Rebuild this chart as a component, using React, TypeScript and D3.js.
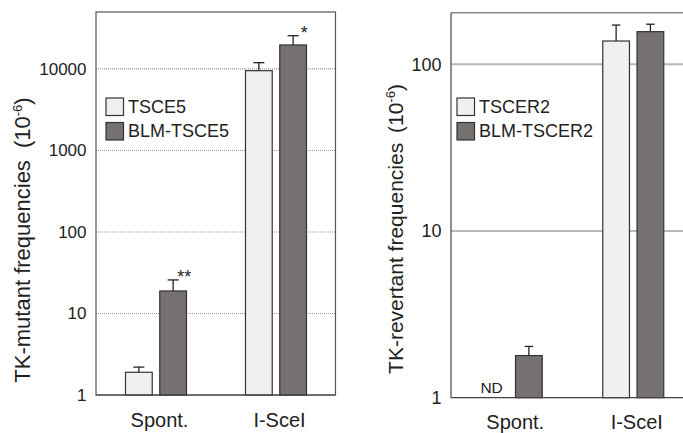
import React from "react";
import * as d3 from "d3";

// categories and series
const categories = ["Spont.", "I-SceI"];

const mutantSeries = ["TSCE5", "BLM-TSCE5"];
const mutantTSCE5 = [1.9, 9530];
const mutantTSCE5Err = [2.2, 11950];
const mutantBLM = [18.9, 19700];
const mutantBLMErr = [25.8, 25600];
const mutantBLMStars = ["**", "*"];
const mutantTicks = [1, 10, 100, 1000, 10000];

const revertantSeries = ["TSCER2", "BLM-TSCER2"];
const revertantTSCER2: (number | null)[] = [null, 138];
const revertantTSCER2Err: (number | null)[] = [null, 172];
const revertantBLM = [1.79, 157];
const revertantBLMErr = [2.03, 174];
const revertantTicks = [1, 10, 100];

const FONT = "'Liberation Sans', Arial, Helvetica, sans-serif";
const LIGHT = "#f0f0f0";
const DARK = "#767170";
const EDGE = "#333";

type Panel = {
  left: number;
  right: number;
  bandRight: number;
  top: number;
  bottom: number;
  yMax: number;
  ticks: number[];
  tickSize: number;
  series: string[];
  values: (number | null)[][];
  errs: (number | null)[][];
  stars?: string[];
  label: string;
  labelSize: number;
  labelGap: number;
  labelX: number;
  labelY: number;
  xLabelY: number;
  legendX: number;
  gridStyle: "dotted" | "solid";
  capW: number;
  nd?: boolean;
};

function BarPanel(p: Panel) {
  const y = d3.scaleLog().domain([1, p.yMax]).range([p.bottom, p.top]);
  const x0 = d3.scaleBand().domain(categories).range([p.left, p.bandRight]);
  const x1 = d3
    .scaleBand()
    .domain(p.series)
    .range([-30.5, 30.5])
    .paddingInner(0.22);
  const fills = [LIGHT, DARK];

  return (
    <g fontFamily={FONT} fill="#222">
      {/* gridlines */}
      {p.ticks.map((t) =>
        t === 1 ? null : (
          <line
            key={"g" + t}
            x1={p.left}
            x2={p.right}
            y1={y(t)}
            y2={y(t)}
            stroke={p.gridStyle === "dotted" ? "#9a9a9a" : "#b8b8b8"}
            strokeWidth={p.gridStyle === "dotted" ? 1.2 : 2}
            strokeDasharray={p.gridStyle === "dotted" ? "1,1" : undefined}
          />
        )
      )}
      {/* frame */}
      {p.gridStyle === "dotted" ? (
        <rect
          x={p.left}
          y={p.top}
          width={p.right - p.left}
          height={p.bottom - p.top}
          fill="none"
          stroke="#555"
          strokeWidth={1.2}
        />
      ) : (
        <g>
          <line x1={p.left} x2={p.right} y1={p.top} y2={p.top} stroke="#888" strokeWidth={1.5} />
          <line x1={p.left} x2={p.left} y1={p.top} y2={p.bottom} stroke="#444" strokeWidth={1.2} />
        </g>
      )}
      {/* bars */}
      {p.series.map((s, si) =>
        categories.map((c, ci) => {
          const v = p.values[si][ci];
          if (v == null) return null;
          const bx = (x0(c) as number) + x0.bandwidth() / 2 + (x1(s) as number);
          const bw = x1.bandwidth();
          const e = p.errs[si][ci] as number;
          const cx = bx + bw / 2;
          return (
            <g key={s + c}>
              <line x1={cx} x2={cx} y1={y(v)} y2={y(e)} stroke="#222" strokeWidth={1.3} />
              <line
                x1={cx - p.capW / 2}
                x2={cx + p.capW / 2}
                y1={y(e)}
                y2={y(e)}
                stroke="#222"
                strokeWidth={1.3}
              />
              <rect
                x={bx}
                y={y(v)}
                width={bw}
                height={p.bottom - y(v)}
                fill={fills[si]}
                stroke={EDGE}
                strokeWidth={1.2}
              />
              {si === 1 && p.stars && p.stars[ci] ? (
                <text x={cx + 11} y={y(e) + 3} fontSize={18} textAnchor="middle">
                  {p.stars[ci]}
                </text>
              ) : null}
            </g>
          );
        })
      )}
      {p.nd ? (
        <text
          x={(x0(categories[0]) as number) + x0.bandwidth() / 2 + (x1(p.series[0]) as number) + x1.bandwidth() / 2 - 3}
          y={p.bottom - 4.5}
          fontSize={15.5}
          textAnchor="middle"
        >
          ND
        </text>
      ) : null}
      {/* bottom axis line */}
      <line x1={p.left} x2={p.right} y1={p.bottom} y2={p.bottom} stroke="#444" strokeWidth={1.2} />
      {/* y tick labels */}
      {p.ticks.map((t) => (
        <text
          key={"t" + t}
          x={p.left - 9.5}
          y={y(t)}
          dy="0.35em"
          fontSize={p.tickSize}
          textAnchor="end"
        >
          {t}
        </text>
      ))}
      {/* x labels */}
      {categories.map((c) => (
        <text
          key={"x" + c}
          x={(x0(c) as number) + x0.bandwidth() / 2 + 3.5}
          y={p.xLabelY}
          fontSize={20}
          textAnchor="middle"
        >
          {c}
        </text>
      ))}
      {/* legend */}
      {p.series.map((s, si) => (
        <g key={"l" + s} transform={`translate(${p.legendX},${98 + si * 24.5})`}>
          <rect x={0} y={0} width={17.5} height={17.5} fill={fills[si]} stroke={EDGE} strokeWidth={1.2} />
          <text x={22} y={14.5} fontSize={18}>
            {s}
          </text>
        </g>
      ))}
      {/* y label */}
      <text
        transform={`translate(${p.labelX},${p.labelY}) rotate(-90)`}
        fontSize={p.labelSize}
        textAnchor="middle"
      >
        {p.label}
        <tspan dx={p.labelGap}>(10</tspan>
        <tspan dy={-8} fontSize={13}>-6</tspan>
        <tspan dy={8}>)</tspan>
      </text>
    </g>
  );
}

export default function App() {
  return (
    <svg
      width={683}
      height={433}
      style={{ position: "absolute", left: 0, top: 0, background: "#fff" }}
    >
      <rect width={683} height={433} fill="#fff" />
      <BarPanel
        left={96}
        right={335.5}
        bandRight={336}
        top={12}
        bottom={395}
        yMax={50000}
        ticks={mutantTicks}
        tickSize={17}
        series={mutantSeries}
        values={[mutantTSCE5, mutantBLM]}
        errs={[mutantTSCE5Err, mutantBLMErr]}
        stars={mutantBLMStars}
        label="TK-mutant frequencies "
        labelSize={22}
        labelGap={6}
        labelX={30}
        labelY={240}
        xLabelY={427}
        legendX={106}
        gridStyle="dotted"
        capW={11}
      />
      <BarPanel
        left={451}
        right={690}
        bandRight={694}
        top={12.7}
        bottom={397.7}
        yMax={204}
        ticks={revertantTicks}
        tickSize={18}
        series={revertantSeries}
        values={[revertantTSCER2, revertantBLM]}
        errs={[revertantTSCER2Err, revertantBLMErr]}
        label="TK-revertant frequencies "
        labelSize={21}
        labelGap={4}
        labelX={403}
        labelY={229}
        xLabelY={428.5}
        legendX={457}
        gridStyle="solid"
        capW={8.5}
        nd
      />
    </svg>
  );
}
